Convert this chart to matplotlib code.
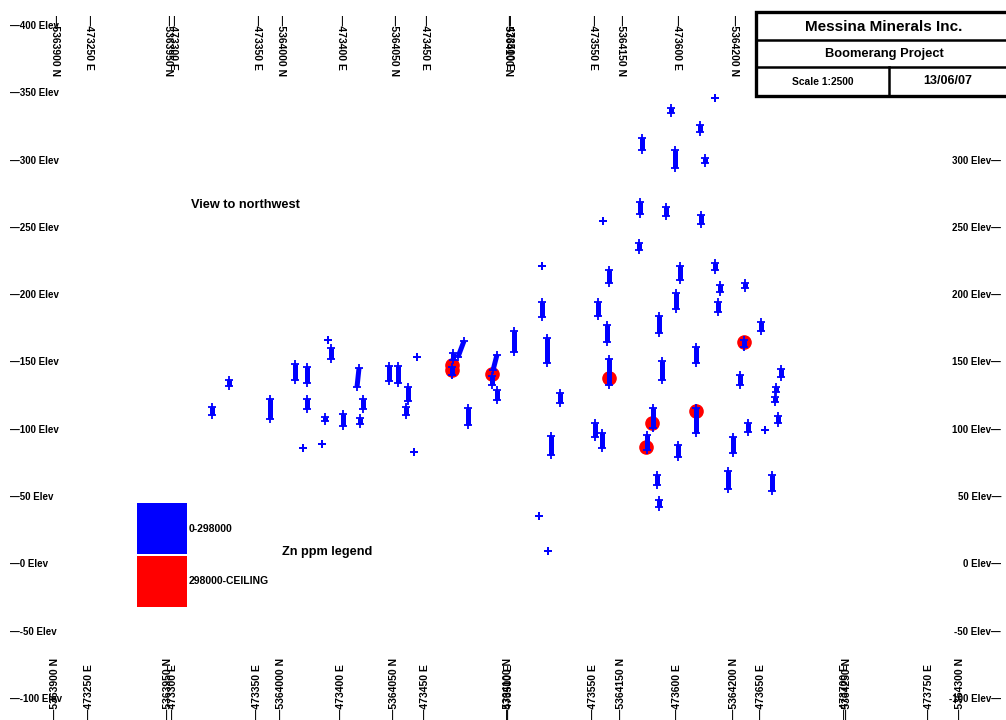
import matplotlib
matplotlib.use("Agg")
import matplotlib.pyplot as plt
from matplotlib.patches import Rectangle
from matplotlib.lines import Line2D
from matplotlib.transforms import blended_transform_factory

plt.rcParams['font.family'] = ['Liberation Sans', 'DejaVu Sans']
plt.rcParams['font.weight'] = 'bold'

# ---------------- data ----------------
# Drill-hole sample intervals (easting along section, elevation top/bottom)
hole_e_top = [473323.2, 473333.3, 473357.7, 473372.6, 473379.8, 473379.8, 473377.4, 473388.7,
              473392.3, 473394.0, 473390.5, 473401.2, 473410.7, 473413.1, 473411.3, 473428.6,
              473433.9, 473439.9, 473438.7, 473445.2, 473443.4, 473466.7, 473466.1, 473473.2,
              473475.6, 473492.8, 473489.9, 473492.8, 473503.0, 473519.6, 473519.6, 473522.6,
              473530.3, 473525.0, 473517.8, 473523.2, 473553.0, 473555.9, 473559.5, 473558.3,
              473559.5, 473551.2, 473555.3, 473578.0, 473579.2, 473577.4, 473585.7, 473582.1,
              473589.3, 473591.0, 473588.1, 473589.3, 473593.4, 473596.4, 473598.8, 473599.4,
              473601.8, 473600.6, 473611.3, 473611.3, 473613.7, 473614.3, 473616.7, 473622.6,
              473622.6, 473625.6, 473624.4, 473637.5, 473639.9, 473633.3, 473630.3, 473640.5,
              473642.2, 473652.4, 473650.0, 473661.9, 473658.9, 473658.3, 473660.1, 473656.5]
hole_e_bot = [473323.2, 473333.3, 473357.7, 473372.6, 473379.8, 473379.8, 473377.4, 473388.7,
              473392.3, 473394.0, 473390.5, 473401.2, 473409.5, 473413.1, 473411.3, 473428.6,
              473433.9, 473439.9, 473438.7, 473445.2, 473443.4, 473466.7, 473466.1, 473469.6,
              473475.6, 473490.5, 473489.9, 473492.8, 473503.0, 473519.6, 473519.6, 473522.6,
              473530.3, 473525.0, 473517.8, 473523.2, 473553.0, 473555.9, 473559.5, 473558.3,
              473559.5, 473551.2, 473555.3, 473578.0, 473579.2, 473577.4, 473585.7, 473582.1,
              473589.3, 473591.0, 473588.1, 473589.3, 473593.4, 473596.4, 473598.8, 473599.4,
              473601.8, 473600.6, 473611.3, 473611.3, 473613.7, 473614.3, 473616.7, 473622.6,
              473622.6, 473625.6, 473624.4, 473637.5, 473639.9, 473633.3, 473630.3, 473640.5,
              473642.2, 473652.4, 473650.0, 473661.9, 473658.9, 473658.3, 473660.1, 473656.5]
hole_z_top = [117.0, 137.0, 122.9, 148.9, 146.7, 122.9, 86.5, 89.5,
              166.7, 160.8, 109.5, 111.8, 145.9, 122.9, 108.8, 147.4,
              147.4, 131.8, 117.0, 154.1, 83.5, 157.1, 146.7, 166.0,
              116.2, 155.6, 140.0, 129.6, 173.4, 194.9, 221.7, 168.2,
              127.4, 95.4, 36.0, 10.0, 194.9, 255.1, 218.7, 177.9,
              152.6, 105.1, 97.6, 269.3, 316.8, 238.8, 116.2, 96.2,
              184.5, 151.1, 66.4, 47.9, 265.5, 339.1, 307.9, 201.6,
              221.7, 88.7, 161.5, 116.2, 326.5, 259.6, 301.9, 346.5,
              223.9, 207.6, 194.9, 140.7, 166.7, 94.7, 69.4, 209.1,
              105.1, 99.9, 180.1, 145.2, 131.8, 124.4, 110.3, 66.4]
hole_z_bot = [111.0, 132.6, 108.0, 137.0, 134.8, 115.5, 86.5, 89.5,
              166.7, 152.6, 106.6, 102.8, 131.8, 115.5, 104.3, 136.3,
              134.8, 121.4, 111.0, 154.1, 83.5, 151.9, 140.7, 154.1,
              103.6, 144.4, 133.3, 122.2, 157.8, 183.8, 221.7, 149.6,
              120.0, 81.3, 36.0, 10.0, 184.5, 255.1, 209.1, 165.2,
              133.3, 94.7, 86.5, 260.3, 307.9, 233.6, 101.3, 85.1,
              171.9, 137.0, 59.1, 42.7, 258.8, 335.4, 294.5, 189.8,
              211.3, 79.8, 149.6, 97.6, 321.3, 252.9, 298.2, 346.5,
              218.7, 202.4, 187.5, 133.3, 161.6, 82.6, 56.1, 205.3,
              98.4, 99.9, 173.4, 139.2, 128.1, 120.7, 105.1, 54.6]

# High-grade Zn samples (298000-CEILING)
high_e = [473466.1, 473466.1, 473489.9, 473559.5, 473585.1, 473581.5, 473611.3, 473639.9]
high_z = [148.2, 144.4, 141.5, 138.5, 105.1, 87.2, 114.0, 165.2]

# Tick labels
elev_ticks = [400, 350, 300, 250, 200, 150, 100, 50, 0, -50, -100]
east_ticks = [473250, 473300, 473350, 473400, 473450, 473500, 473550, 473600, 473650, 473700, 473750]
north_ticks = [5363900, 5363950, 5364000, 5364050, 5364100, 5364150, 5364200, 5364250, 5364300]

# section geometry: easting position of northing ticks along section line
N0, E_AT_N0, E_PER_N = 5363900, 473229.8, 1.3467

title = "Messina Minerals Inc."
project = "Boomerang Project"
scale_txt = "Scale 1:2500"
date_txt = "13/06/07"
legend_title = "Zn ppm legend"
legend_labels = ["0-298000", "298000-CEILING"]
legend_colors = ["#0000ff", "#ff0000"]

# ---------------- figure ----------------
W, H = 1006, 720
fig = plt.figure(figsize=(W / 100, H / 100), dpi=100)
fig.patch.set_facecolor('white')
ax = fig.add_axes([0, 0, 1, 1])
ax.set_xlim(473197.0, 473795.8)
ax.set_ylim(-115.6, 419.3)
ax.axis('off')

def fx(px):
    return px / W

def fy(py):
    return 1 - py / H

BLUE = '#0000ff'
RED = '#ff0000'

# red high-grade circles (below blue)
ax.plot(high_e, high_z, 'o', color=RED, ms=9.5, mec=RED, zorder=2)

# blue sample intervals
for et, eb, zt, zb in zip(hole_e_top, hole_e_bot, hole_z_top, hole_z_bot):
    if zt != zb:
        ax.plot([et, eb], [zt, zb], color=BLUE, lw=3.6, solid_capstyle='butt', zorder=3)
    ax.plot([et, eb], [zt, zb], '+', color=BLUE, ms=6, mew=1.3, zorder=3)

# elevation labels
for z in elev_ticks:
    ax.text(fx(10), z, "\u2014" + f"{z} Elev", transform=blended_transform_factory(fig.transFigure, ax.transData),
            ha='left', va='center', fontsize=7, fontweight='bold', zorder=5)
    ax.text(fx(1001), z, f"{z} Elev" + "\u2014", transform=blended_transform_factory(fig.transFigure, ax.transData),
            ha='right', va='center', fontsize=7, fontweight='bold', zorder=5)

# coordinate labels top and bottom
btr = blended_transform_factory(ax.transData, fig.transFigure)
coord_pos = [(e, f"{e} E") for e in east_ticks] + \
            [(E_AT_N0 + (n - N0) * E_PER_N, f"{n} N") for n in north_ticks]
for pos, lab in coord_pos:
    ax.text(pos, fy(15), "\u2014" + lab, transform=btr, rotation=270, ha='center', va='top',
            fontsize=7.5, fontweight='bold', zorder=5)
    ax.text(pos, fy(719), "\u2014" + lab, transform=btr, rotation=90, ha='center', va='bottom',
            fontsize=7.5, fontweight='bold', zorder=5)

# title block
x0, x1, y0, y1 = 756, 1012, 12, 96
fig.add_artist(Rectangle((fx(x0), fy(y1)), fx(x1 - x0), (y1 - y0) / H, transform=fig.transFigure,
                         facecolor='white', edgecolor='black', lw=2.4, zorder=10))
for yy in (40, 67):
    fig.add_artist(Line2D([fx(x0), fx(x1)], [fy(yy), fy(yy)], transform=fig.transFigure,
                          color='black', lw=1.8, zorder=11))
fig.add_artist(Line2D([fx(889), fx(889)], [fy(67), fy(y1)], transform=fig.transFigure,
                      color='black', lw=1.8, zorder=11))
fig.text(fx(884), fy(27), title, ha='center', va='center', fontsize=11, fontweight='bold', zorder=12)
fig.text(fx(884), fy(54), project, ha='center', va='center', fontsize=9.3, fontweight='bold', zorder=12)
fig.text(fx(823), fy(82), scale_txt, ha='center', va='center', fontsize=7.4, fontweight='bold', zorder=12)
fig.text(fx(948), fy(81), date_txt, ha='center', va='center', fontsize=9, fontweight='bold', zorder=12)

# annotations
fig.text(fx(191), fy(205), "View to northwest", ha='left', va='center', fontsize=9.2, fontweight='bold')

# legend
fig.add_artist(Rectangle((fx(137), fy(554)), fx(50), 51 / H, transform=fig.transFigure,
                         facecolor=legend_colors[0], edgecolor='none'))
fig.add_artist(Rectangle((fx(137), fy(607)), fx(50), 51 / H, transform=fig.transFigure,
                         facecolor=legend_colors[1], edgecolor='none'))
fig.text(fx(189), fy(529), legend_labels[0], ha='left', va='center', fontsize=7.5, fontweight='bold')
fig.text(fx(189), fy(581), legend_labels[1], ha='left', va='center', fontsize=7.5, fontweight='bold')
fig.text(fx(282), fy(552), legend_title, ha='left', va='center', fontsize=9.2, fontweight='bold')

fig.savefig("out.png", dpi=100, facecolor='white')
